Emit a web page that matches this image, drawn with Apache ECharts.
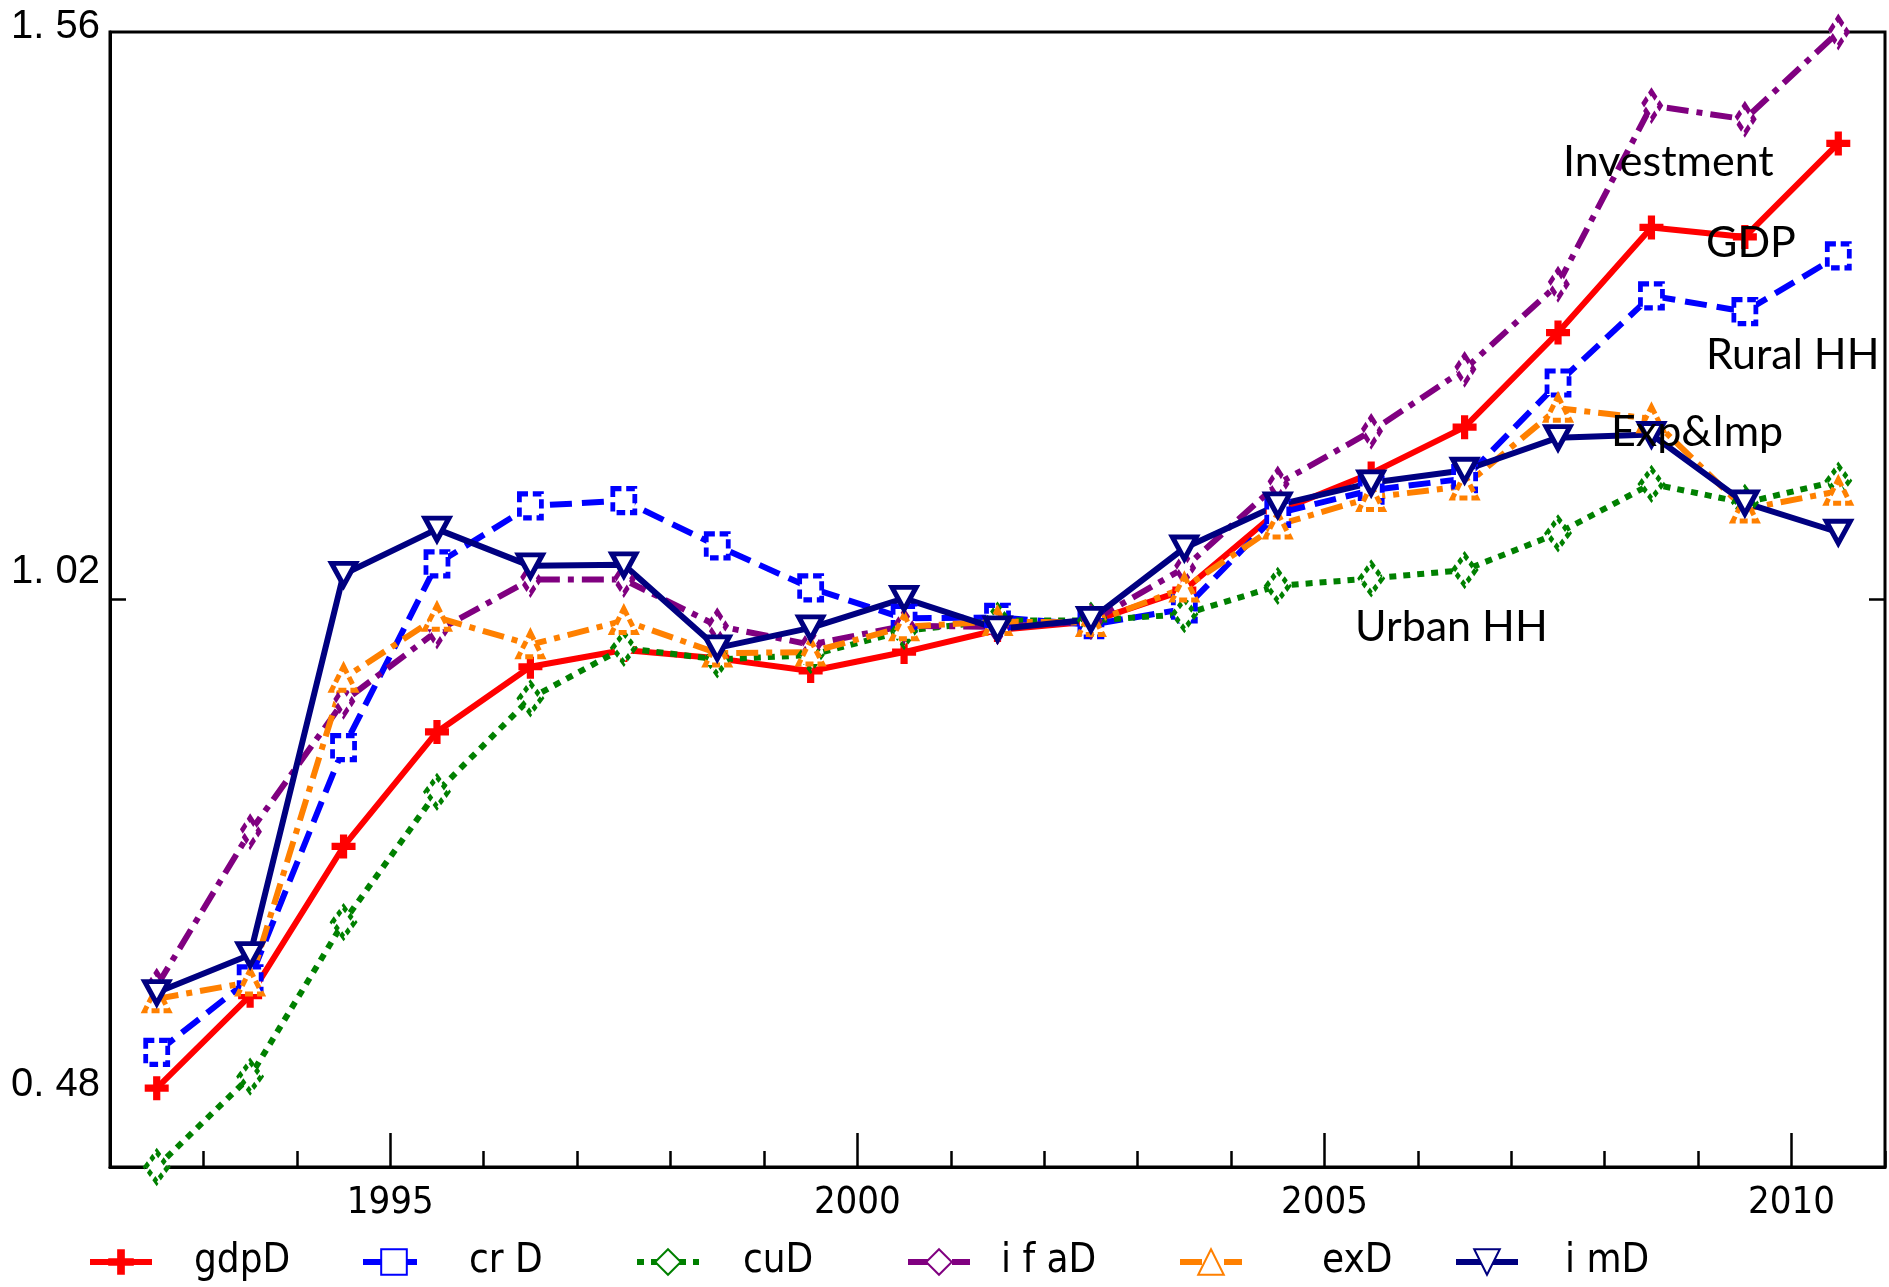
<!DOCTYPE html>
<html>
<head>
<meta charset="utf-8">
<title>Deflators 1992-2010</title>
<script src="https://cdn.jsdelivr.net/npm/echarts@6/dist/echarts.min.js"></script>
<style>
  html, body { margin: 0; padding: 0; background: #fff; }
  #chart { width: 1889px; height: 1287px; }
</style>
</head>
<body>
<div id="chart"></div>
<script>
// Annual observations, plotted at mid-year
const years = [1992, 1993, 1994, 1995, 1996, 1997, 1998, 1999, 2000, 2001,
               2002, 2003, 2004, 2005, 2006, 2007, 2008, 2009, 2010];

const gdpD = [0.555, 0.643, 0.785, 0.894, 0.956, 0.972, 0.964, 0.952, 0.970, 0.991,
              0.999, 1.029, 1.104, 1.140, 1.184, 1.274, 1.374, 1.365, 1.454];
const crD  = [0.589, 0.659, 0.879, 1.054, 1.109, 1.114, 1.071, 1.031, 1.002, 1.003,
              0.996, 1.011, 1.102, 1.124, 1.135, 1.226, 1.309, 1.294, 1.347];
const cuD  = [0.480, 0.566, 0.713, 0.837, 0.926, 0.974, 0.963, 0.967, 0.990, 1.000,
              1.000, 1.006, 1.033, 1.040, 1.048, 1.083, 1.130, 1.112, 1.133];
const ifaD = [0.652, 0.799, 0.923, 0.990, 1.039, 1.039, 0.995, 0.977, 0.995, 0.994,
              0.999, 1.050, 1.130, 1.180, 1.239, 1.320, 1.490, 1.477, 1.560];
const exD  = [0.640, 0.656, 0.945, 1.003, 0.977, 1.000, 0.969, 0.970, 0.994, 0.999,
              0.998, 1.031, 1.091, 1.117, 1.128, 1.202, 1.192, 1.106, 1.123];
const imD  = [0.646, 0.682, 1.044, 1.087, 1.052, 1.053, 0.974, 0.993, 1.021, 0.992,
              1.001, 1.069, 1.110, 1.131, 1.143, 1.174, 1.177, 1.112, 1.084];

// Axis ranges and tick labels
const xMin = 1992, xMax = 2011;
const xMajorYears = [1995, 2000, 2005, 2010];
const yMin = 0.48, yMax = 1.56;
const yTickValues = [1.02];
const yLabelValues = [0.48, 1.02, 1.56];
const yLabelTexts = ['0. 48', '1. 02', '1. 56'];

// Legend names and line annotations
const seriesNames = ['gdpD', 'cr D', 'cuD', 'i f aD', 'exD', 'i mD'];
const annotations = ['Investment', 'GDP', 'Rural HH', 'Exp&Imp', 'Urban HH'];

const chart = echarts.init(document.getElementById('chart'), null, { renderer: 'canvas' });

const GRID = { left: 110, top: 32, right: 4, bottom: 120 };
const plusPath = 'path://M3.5,0h3v3.5h3.5v3h-3.5v3.5h-3v-3.5h-3.5v-3h3.5z';
const narrowFont = '"Liberation Sans Narrow", "DejaVu Sans Condensed", "Liberation Sans", sans-serif';
const labelFont = '"Liberation Sans", Arial, sans-serif';
const noteFont = '43px Lato, "Open Sans", sans-serif';

function pairs(arr) {
  return arr.map((v, i) => [years[i] + 0.5, v]);
}

function lineSeries(name, values, color, dash, symbol, size, opts) {
  const o = opts || {};
  return {
    name: name,
    type: 'line',
    xAxisIndex: 0,
    yAxisIndex: 0,
    data: pairs(values),
    color: color,
    symbol: symbol,
    symbolSize: size,
    symbolRotate: o.rotate || 0,
    showAllSymbol: true,
    clip: false,
    lineStyle: { color: color, width: 6, type: dash, cap: 'butt' },
    itemStyle: o.filled
      ? { color: color, borderWidth: 0 }
      : { color: '#fff', borderColor: color, borderWidth: 5, borderType: o.markDash || 'solid' },
    emphasis: { disabled: true },
    z: 2
  };
}

const series = [
  lineSeries(seriesNames[0], gdpD, '#ff0000', 'solid', plusPath, 24, { filled: true }),
  lineSeries(seriesNames[1], crD, '#0000ff', [22, 10], 'rect', [22, 24], { markDash: [9, 5] }),
  lineSeries(seriesNames[2], cuD, '#008000', [7, 7], 'diamond', [22, 30], { markDash: [5, 4] }),
  lineSeries(seriesNames[3], ifaD, '#800080', [22, 8, 6, 8], 'diamond', [18, 28], { markDash: [8, 4] }),
  lineSeries(seriesNames[4], exD, '#ff8000', [22, 8, 6, 8], 'triangle', [24, 24], { markDash: [8, 4] }),
  lineSeries(seriesNames[5], imD, '#000080', 'solid', 'triangle', [24, 22], { rotate: 180 })
];

// One legend per entry so each sits in its own slot along the bottom
const legendSlots = [
  { left: 82, pad: 37 }, { left: 355, pad: 39 }, { left: 629, pad: 39 },
  { left: 900, pad: 26 }, { left: 1172, pad: 75 }, { left: 1448, pad: 42 }
];
const legends = seriesNames.map((n, i) => ({
  data: [n],
  left: legendSlots[i].left,
  top: 1237,
  itemWidth: 62,
  itemHeight: 32,
  selectedMode: false,
  lineStyle: { width: 6 },
  textStyle: {
    fontFamily: narrowFont,
    fontSize: 40,
    color: '#000',
    padding: [0, 0, 0, legendSlots[i].pad]
  }
}));

// Each y label is lifted above its value by stacking blank lines under it
function yLabelAxis(idx, blankLines, lineH, withLine) {
  return {
    type: 'value', min: yMin, max: yMax, position: 'left',
    axisLine: { show: !!withLine, lineStyle: { color: '#000', width: 3 } },
    axisTick: withLine
      ? { show: true, inside: true, length: 16, customValues: yTickValues, lineStyle: { color: '#000', width: 2.5 } }
      : { show: false },
    splitLine: { show: false },
    axisLabel: {
      customValues: [yLabelValues[idx]],
      formatter: () => yLabelTexts[idx] + '\n'.repeat(blankLines),
      fontFamily: labelFont, fontSize: 40, lineHeight: lineH, color: '#000', margin: 10
    }
  };
}

const option = {
  backgroundColor: '#fff',
  animation: false,
  grid: Object.assign({ show: true, borderColor: '#000', borderWidth: 3, backgroundColor: 'transparent' }, GRID),
  legend: legends,
  xAxis: [
    {
      type: 'value', min: xMin, max: xMax, interval: 1, position: 'bottom',
      axisLine: { show: true, lineStyle: { color: '#000', width: 3 } },
      axisTick: { show: true, inside: true, length: 16, lineStyle: { color: '#000', width: 2.5 } },
      axisLabel: { show: false },
      splitLine: { show: false }
    },
    {
      type: 'value', min: xMin, max: xMax, position: 'bottom',
      axisLine: { show: false },
      axisTick: { show: true, inside: true, length: 34, customValues: xMajorYears, lineStyle: { color: '#000', width: 2.5 } },
      axisLabel: {
        customValues: xMajorYears,
        formatter: v => String(v),
        fontFamily: narrowFont,
        fontSize: 38, color: '#000', margin: 17
      },
      splitLine: { show: false }
    }
  ],
  yAxis: [
    yLabelAxis(1, 1, 56, true),
    {
      type: 'value', min: yMin, max: yMax, position: 'right',
      axisLine: { show: false },
      axisTick: { show: true, inside: true, length: 16, customValues: yTickValues, lineStyle: { color: '#000', width: 2.5 } },
      axisLabel: { show: false },
      splitLine: { show: false }
    },
    yLabelAxis(0, 4, 41, false),
    yLabelAxis(2, 1, 10, false)
  ],
  series: series,
  graphic: [
    { type: 'text', left: 1563, top: 141, style: { text: annotations[0], font: noteFont, fill: '#000' }, z: 10 },
    { type: 'text', left: 1706, top: 222, style: { text: annotations[1], font: noteFont, fill: '#000' }, z: 10 },
    { type: 'text', left: 1706, top: 334, style: { text: annotations[2], font: noteFont, fill: '#000' }, z: 10 },
    { type: 'text', left: 1611, top: 411, style: { text: annotations[3], font: noteFont, fill: '#000' }, z: 10 },
    { type: 'text', left: 1355, top: 606, style: { text: annotations[4], font: noteFont, fill: '#000' }, z: 10 }
  ]
};

chart.setOption(option);
</script>
</body>
</html>
